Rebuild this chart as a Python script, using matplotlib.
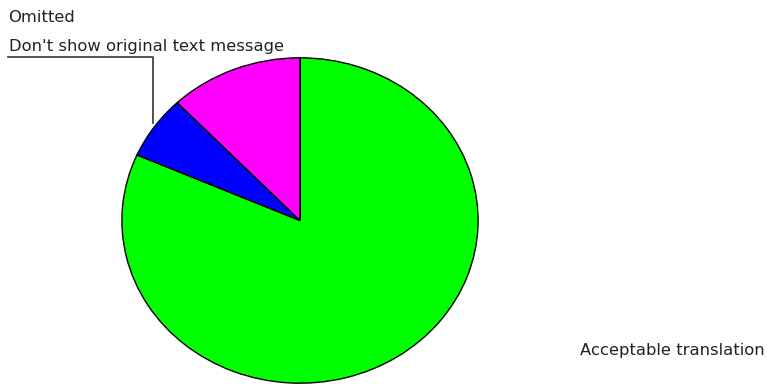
import matplotlib
matplotlib.use("Agg")
import matplotlib.pyplot as plt

# slice data, clockwise from 12 o'clock
labels = ["Acceptable translation", "Don't show original text message", "Omitted"]
shares = [81.6, 6.3, 12.1]
colors = ["#00ff00", "#0000ff", "#ff00ff"]

plt.rcParams['font.family'] = ['DejaVu Sans']

W, H = 767, 384
fig = plt.figure(figsize=(W / 100, H / 100), dpi=100)

# pie box in pixels (left, top, right, bottom) - slightly wider than tall
px0, py0, px1, py1 = 121, 57, 479, 384
ax = fig.add_axes([px0 / W, 1 - py1 / H, (px1 - px0) / W, (py1 - py0) / H])
ax.pie(shares, colors=colors, startangle=90, counterclock=False,
       wedgeprops=dict(edgecolor="black", linewidth=1.0))
ax.set_aspect("auto")
ax.set_xlim(-1.005, 1.005)
ax.set_ylim(-1.005, 1.005)
ax.axis("off")

# overlay in pixel coordinates for labels
ov = fig.add_axes([0, 0, 1, 1], facecolor="none")
ov.set_xlim(0, W)
ov.set_ylim(H, 0)
ov.axis("off")

fs = 11.8
ov.text(8, 18, labels[2], fontsize=fs, va="center", ha="left", color="#222222")
ov.text(9, 46, labels[1], fontsize=fs, va="center", ha="left", color="#222222")
ov.text(580, 350, labels[0], fontsize=fs, va="center", ha="left", color="#222222")

# leader for the blue slice
ov.plot([8, 153, 153], [57, 57, 123], color="#333333", lw=1.2)

fig.savefig("out.png", dpi=100)
